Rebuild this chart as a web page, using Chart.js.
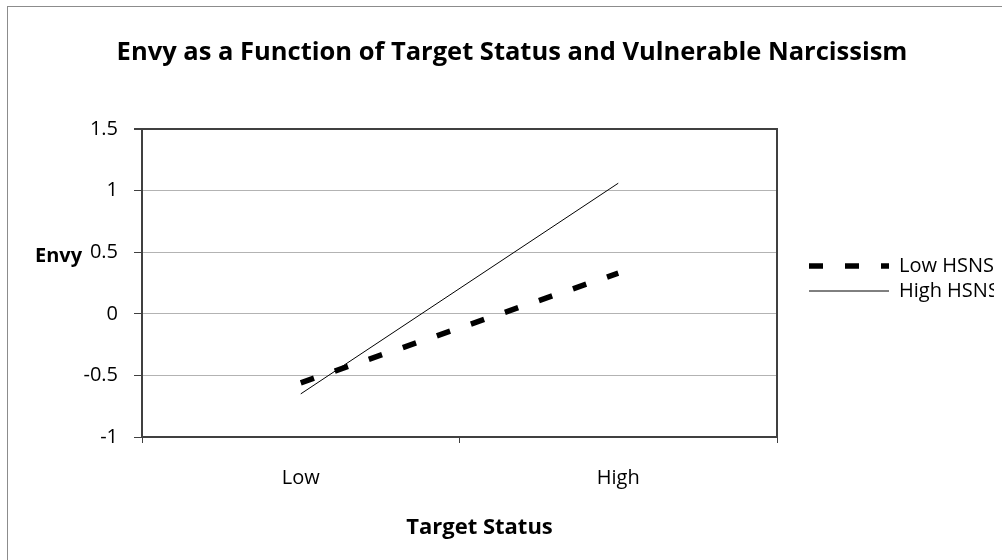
<!DOCTYPE html>
<html>
<head>
<meta charset="utf-8">
<script src="https://cdn.jsdelivr.net/npm/chart.js@4.4.1/dist/chart.umd.min.js"></script>
<style>
  html, body { margin: 0; padding: 0; background: #fff; overflow: hidden; }
  #frame { position: absolute; left: 7px; top: 6px; border-left: 1px solid #8c8c8c; border-top: 1px solid #8c8c8c; }
  #chart { display: block; }
</style>
</head>
<body>
<div id="frame"><canvas id="chart" width="1010" height="560"></canvas></div>
<script>
// data
const categories = ['Low', 'High'];
const seriesNames = ['Low HSNS', 'High HSNS'];
const lowHsns = [-0.56, 0.33];
const highHsns = [-0.65, 1.06];
const yTicks = [-1, -0.5, 0, 0.5, 1, 1.5];
const yTickLabels = ['-1', '-0.5', '0', '0.5', '1', '1.5'];
const titleText = 'Envy as a Function of Target Status and Vulnerable Narcissism';
const xTitle = 'Target Status';
const yTitle = 'Envy';

const axisColor = '#404040';
const gridColor = '#b3b3b3';
const padLeft = 22;

Chart.defaults.font.family = '"Open Sans", sans-serif';
Chart.defaults.color = '#000';

// axis titles drawn by hand: "Envy" is horizontal next to the 0.5 tick,
// "Target Status" sits a little right of the plot centre like in Excel
const axisTitles = {
    id: 'axisTitles',
    afterDraw(chart) {
        const ctx = chart.ctx;
        const y = chart.scales.y;
        const x = chart.scales.x;
        ctx.save();
        ctx.fillStyle = '#000';
        ctx.textBaseline = 'middle';
        ctx.font = 'bold 20px "Open Sans"';
        ctx.textAlign = 'left';
        ctx.fillText(yTitle, y.left + 5, y.getPixelForValue(0.5) + 4);
        ctx.font = 'bold 22px "Open Sans"';
        ctx.textAlign = 'center';
        ctx.fillText(xTitle, (x.left + x.right) / 2 + 20, x.bottom - 22);
        ctx.restore();
    }
};

new Chart(document.getElementById('chart'), {
    type: 'line',
    data: {
        labels: categories,
        datasets: [{
            label: seriesNames[0],
            data: lowHsns,
            borderColor: '#000',
            backgroundColor: '#000',
            borderWidth: 5.5,
            borderDash: [14, 22],
            borderCapStyle: 'butt',
            pointRadius: 0,
            tension: 0
        }, {
            label: seriesNames[1],
            data: highHsns,
            borderColor: '#000',
            backgroundColor: '#000',
            borderWidth: 1,
            pointRadius: 0,
            tension: 0
        }]
    },
    options: {
        responsive: false,
        animation: false,
        layout: { padding: { left: padLeft, right: 24, top: 0, bottom: 17 } },
        plugins: {
            title: {
                display: true,
                text: titleText,
                color: '#000',
                font: { size: 25.5, weight: 'bold' },
                padding: { top: 30.7, bottom: 60.7 }
            },
            legend: {
                position: 'right',
                align: 'center',
                maxWidth: 190,
                labels: {
                    usePointStyle: true,
                    pointStyle: 'line',
                    pointStyleWidth: 80,
                    padding: 5,
                    color: '#000',
                    font: { size: 20 },
                    // point style labels drop the dash, put it back from the dataset
                    generateLabels: chart => {
                        const items = Chart.defaults.plugins.legend.labels.generateLabels(chart);
                        items.forEach(it => {
                            const ds = chart.data.datasets[it.datasetIndex];
                            it.lineDash = ds.borderDash || [];
                            it.lineWidth = ds.borderWidth;
                            it.lineCap = 'butt';
                        });
                        return items;
                    }
                }
            },
            tooltip: { enabled: false }
        },
        scales: {
            x: {
                offset: true,
                grid: { display: true, drawOnChartArea: false, drawTicks: true, tickLength: 6, tickColor: axisColor, offset: true },
                border: { color: axisColor, width: 2 },
                ticks: { color: '#000', font: { size: 20 }, padding: 23 },
                afterFit: s => { s.height = 113; }
            },
            y: {
                min: -1,
                max: 1.5,
                afterBuildTicks: s => { s.ticks = yTicks.map(v => ({ value: v })); },
                ticks: {
                    color: '#000',
                    font: { size: 20 },
                    padding: 16,
                    callback: (v, i) => yTickLabels[i]
                },
                grid: {
                    color: c => (c.tick && c.tick.value === 1.5) ? axisColor : gridColor,
                    lineWidth: c => (c.tick && c.tick.value === 1.5) ? 2 : 1,
                    tickColor: axisColor,
                    tickLength: 8
                },
                border: { color: axisColor, width: 2 },
                afterFit: s => { s.width = 134 - padLeft; }
            },
            gap: {
                type: 'linear',
                position: 'right',
                display: true,
                grid: { display: false },
                ticks: { display: false },
                border: { display: true, color: axisColor, width: 2 },
                afterFit: s => { s.width = 27; }
            }
        }
    },
    plugins: [axisTitles]
});
</script>
</body>
</html>
